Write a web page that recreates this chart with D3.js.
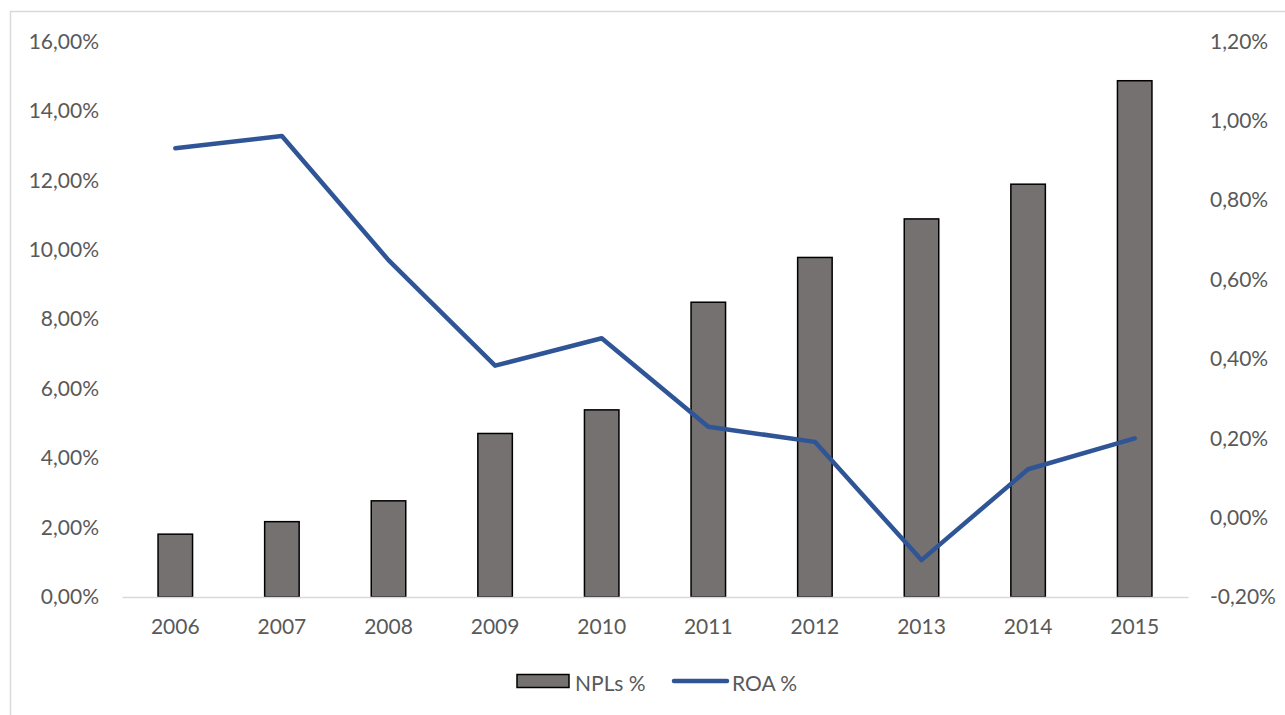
<!DOCTYPE html>
<html>
<head>
<meta charset="utf-8">
<script src="https://cdn.jsdelivr.net/npm/d3@7"></script>
<style>
  html, body { margin: 0; padding: 0; background: #fff; }
  svg { display: block; }
  text { font-family: Lato, "Open Sans", sans-serif; fill: #595959; }
</style>
</head>
<body>
<svg id="chart" width="1285" height="715"></svg>
<script>
// Yearly figures
const years = ["2006", "2007", "2008", "2009", "2010", "2011", "2012", "2013", "2014", "2015"];
const nplValues = [1.81, 2.17, 2.77, 4.71, 5.39, 8.49, 9.78, 10.89, 11.89, 14.87];
const roaValues = [0.931, 0.962, 0.649, 0.383, 0.452, 0.229, 0.191, -0.107, 0.122, 0.200];
const leftTicks = [0, 2, 4, 6, 8, 10, 12, 14, 16];
const rightTicks = [-0.2, 0, 0.2, 0.4, 0.6, 0.8, 1.0, 1.2];
const seriesNames = ["NPLs %", "ROA %"];

const svg = d3.select("#chart");
const plot = { left: 122, right: 1188, top: 41.5, bottom: 597 };
const fontSize = "21px";

// Outer chart frame
svg.append("rect")
  .attr("x", 10.5).attr("y", 11.5)
  .attr("width", 1300).attr("height", 720)
  .attr("fill", "none").attr("stroke", "#d9d9d9").attr("stroke-width", 1.5);

const x = d3.scaleBand().domain(years).range([plot.left, plot.right]).paddingInner(0).paddingOuter(0);
const yLeft = d3.scaleLinear().domain([0, 16]).range([plot.bottom, plot.top]);
const yRight = d3.scaleLinear().domain([-0.2, 1.2]).range([plot.bottom, plot.top]);

const fmt = (v, d) => v.toFixed(d).replace(".", ",") + "%";

function styleLabels(g) {
  g.selectAll("text").style("font-size", fontSize).attr("fill", "#595959")
    .style("font-family", "Lato, 'Open Sans', sans-serif");
}

// Left axis labels
const leftAxis = d3.axisLeft(yLeft).tickValues(leftTicks).tickSize(0).tickPadding(0)
  .tickFormat(d => fmt(d, 2));
const gl = svg.append("g").attr("transform", "translate(99,0)").call(leftAxis);
gl.select(".domain").remove();
styleLabels(gl);

// Right axis labels
const rightAxis = d3.axisRight(yRight).tickValues(rightTicks).tickSize(0).tickPadding(0)
  .tickFormat(d => fmt(Math.abs(d) < 1e-9 ? 0 : d, 2));
const gr = svg.append("g").attr("transform", "translate(1210,0)").call(rightAxis);
gr.select(".domain").remove();
styleLabels(gr);

// Bars
const barW = 34.5;
svg.append("g").selectAll("rect").data(years).join("rect")
  .attr("x", d => x(d) + x.bandwidth() / 2 - barW / 2)
  .attr("y", (d, i) => yLeft(nplValues[i]))
  .attr("width", barW)
  .attr("height", (d, i) => yLeft(0) - yLeft(nplValues[i]))
  .attr("fill", "#757171")
  .attr("stroke", "#000").attr("stroke-width", 1.5);

// Category axis line and year labels
const bottomAxis = d3.axisBottom(x).tickSize(0).tickPadding(22);
const gb = svg.append("g").attr("transform", `translate(0,${plot.bottom})`).call(bottomAxis);
gb.select(".domain").attr("stroke", "#d9d9d9").attr("stroke-width", 1.5);
styleLabels(gb);

// ROA line
const line = d3.line()
  .x((d, i) => x(years[i]) + x.bandwidth() / 2)
  .y(d => yRight(d));
svg.append("path").datum(roaValues)
  .attr("d", line)
  .attr("fill", "none").attr("stroke", "#2f5597")
  .attr("stroke-width", 4.5).attr("stroke-linecap", "round").attr("stroke-linejoin", "round");

// Legend
const lg = svg.append("g");
lg.append("rect").attr("x", 517).attr("y", 674.5).attr("width", 52).attr("height", 13)
  .attr("fill", "#757171").attr("stroke", "#000").attr("stroke-width", 1.5);
lg.append("text").attr("x", 575).attr("y", 682).attr("dominant-baseline", "central")
  .style("font-size", fontSize).text(seriesNames[0]);
lg.append("line").attr("x1", 674).attr("x2", 727).attr("y1", 681).attr("y2", 681)
  .attr("stroke", "#2f5597").attr("stroke-width", 4.5).attr("stroke-linecap", "round");
lg.append("text").attr("x", 732).attr("y", 682).attr("dominant-baseline", "central")
  .style("font-size", fontSize).text(seriesNames[1]);
</script>
</body>
</html>
